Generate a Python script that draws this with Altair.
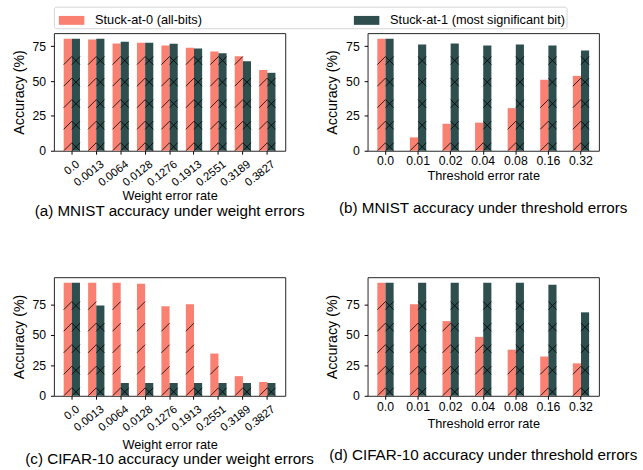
import altair as alt
import pandas as pd

# ---------------- data ----------------
series = ["Stuck-at-0 (all-bits)", "Stuck-at-1 (most significant bit)"]

w_rates = ["0.0", "0.0013", "0.0064", "0.0128", "0.1276", "0.1913", "0.2551", "0.3189", "0.3827"]
t_rates = ["0.0", "0.01", "0.02", "0.04", "0.08", "0.16", "0.32"]

mnist_w_s0 = [80.5, 79.9, 77.0, 77.6, 75.6, 74.0, 71.3, 67.9, 58.0]
mnist_w_s1 = [80.5, 80.4, 78.3, 77.6, 76.9, 73.5, 70.0, 64.3, 56.0]
mnist_t_s0 = [80.5, 9.6, 19.4, 20.2, 30.6, 51.0, 53.8]
mnist_t_s1 = [80.5, 76.3, 77.0, 75.6, 76.3, 75.6, 72.0]
cifar_w_s0 = [92.6, 92.6, 92.6, 91.8, 73.3, 75.0, 34.6, 16.1, 11.3]
cifar_w_s1 = [92.6, 74.0, 10.5, 10.5, 10.5, 10.5, 10.5, 10.5, 10.5]
cifar_t_s0 = [92.6, 75.0, 61.2, 48.3, 37.8, 32.2, 26.6]
cifar_t_s1 = [92.6, 92.6, 92.6, 92.6, 92.6, 91.0, 68.4]

captions = [
    "(a) MNIST accuracy under weight errors",
    "(b) MNIST accuracy under threshold errors",
    "(c) CIFAR-10 accuracy under weight errors",
    "(d) CIFAR-10 accuracy under threshold errors",
]

# ---------------- style ----------------
FONT = "Liberation Sans"
RED = "#FA8072"
GREEN = "#2F4F4F"
W = 236
BAR_PX = 8.3
HATCH_STEP = 22.0
HATCH_START = 4.0

legend = alt.Legend(
    orient="none", legendX=0, legendY=-27, direction="horizontal", columns=2,
    columnPadding=150, title=None, labelFontSize=13, labelFont=FONT, labelColor="black",
    labelLimit=400,
    symbolType="M-0.69,-0.35H1.31V0.35H-0.69Z", symbolSize=676, symbolStrokeWidth=0,
    symbolOpacity=1, labelOffset=15, padding=1, strokeColor="#d4d4d4",
    fillColor="white", cornerRadius=2,
)


def hatch_rows(rates, vals, name, ymax, H):
    ppu = H / ymax
    rows = []
    for r, v in zip(rates, vals):
        top = v * ppu
        k = 0
        while HATCH_START + HATCH_STEP * k + BAR_PX / 2 <= top:
            rows.append({"rate": r, "series": name, "hy": (HATCH_START + HATCH_STEP * k) / ppu})
            k += 1
    return pd.DataFrame(rows)


def panel(rates, s0, s1, ymax, H, xtitle, rotated, caption, cap_offset, tpad):
    n = len(rates)
    if n == 9:
        pin, pout = 1 / 3, 0.4
    else:
        pin, pout = 0.5, 0.3
    df = pd.DataFrame(
        {"rate": rates * 2, "series": [series[0]] * n + [series[1]] * n, "acc": s0 + s1}
    )
    if rotated:
        xaxis = alt.Axis(title=xtitle, labelAngle=322, labelAlign="right", labelBaseline="top",
                         labelFontSize=11.5, labelPadding=4, labelOffset=3, titlePadding=tpad)
    else:
        xaxis = alt.Axis(title=xtitle, labelAngle=0, labelPadding=1, titlePadding=tpad)
    yaxis = alt.Axis(title="Accuracy (%)", values=[0, 25, 50, 75], titleFontSize=14.5,
                     labelPadding=5, titlePadding=6, labelOverlap=False)
    yscale = alt.Scale(domain=[0, ymax], nice=False)
    X = alt.X("rate:N", sort=rates, scale=alt.Scale(paddingInner=pin, paddingOuter=pout), axis=xaxis)
    XO = alt.XOffset("series:N", sort=series, scale=alt.Scale(domain=series))
    Y = alt.Y("acc:Q", scale=yscale, axis=yaxis)
    bars = alt.Chart(df).mark_bar().encode(
        x=X, xOffset=XO, y=Y,
        color=alt.Color("series:N", scale=alt.Scale(domain=series, range=[RED, GREEN]), legend=legend),
    )
    h0 = hatch_rows(rates, s0, series[0], ymax, H)
    h1 = hatch_rows(rates, s1, series[1], ymax, H)
    Yh = alt.Y("hy:Q", scale=yscale, axis=yaxis)
    hatch0 = alt.Chart(h0).mark_point(
        shape="M-1,1L1,-1", size=BAR_PX ** 2, filled=False, stroke="black",
        strokeWidth=0.8, opacity=1, clip=True,
    ).encode(x=X, xOffset=XO, y=Yh)
    hatch1 = alt.Chart(h1).mark_point(
        shape="M-1,1L1,-1M-1,-1L1,1", size=BAR_PX ** 2, filled=False, stroke="black",
        strokeWidth=0.8, opacity=1, clip=True,
    ).encode(x=X, xOffset=XO, y=Yh)
    return alt.layer(bars, hatch0, hatch1).properties(
        width=W, height=H,
        title=alt.TitleParams(caption, orient="bottom", fontSize=15.5, font=FONT,
                              fontWeight="normal", color="black", offset=cap_offset, anchor="middle"),
    )


pa = panel(w_rates, mnist_w_s0, mnist_w_s1, 84.5, 120, "Weight error rate", True, captions[0], 1, 2)
pb = panel(t_rates, mnist_t_s0, mnist_t_s1, 84.5, 120, "Threshold error rate", False, captions[1], 20, 2)
pc = panel(w_rates, cifar_w_s0, cifar_w_s1, 97.2, 121, "Weight error rate", True, captions[2], 0, 6)
pd_ = panel(t_rates, cifar_t_s0, cifar_t_s1, 97.2, 121, "Threshold error rate", False, captions[3], 19, 5)

chart = alt.concat(
    pa, pb, pc, pd_, columns=2, spacing={"row": 129, "column": 84}, bounds="flush"
).properties(
    padding={"left": 11, "top": 1, "right": 5, "bottom": 2},
    background="white",
).configure(
    font=FONT,
).configure_view(
    stroke="#222222", strokeWidth=1,
).configure_axis(
    grid=False, domain=False, tickColor="black", tickSize=3.5, tickWidth=1,
    labelColor="black", titleColor="black", labelFontSize=12.5, titleFontSize=13,
    titleFontWeight="normal", labelFont=FONT, titleFont=FONT,
)

chart.save("out.html", embed_options={"renderer": "svg", "actions": False})
